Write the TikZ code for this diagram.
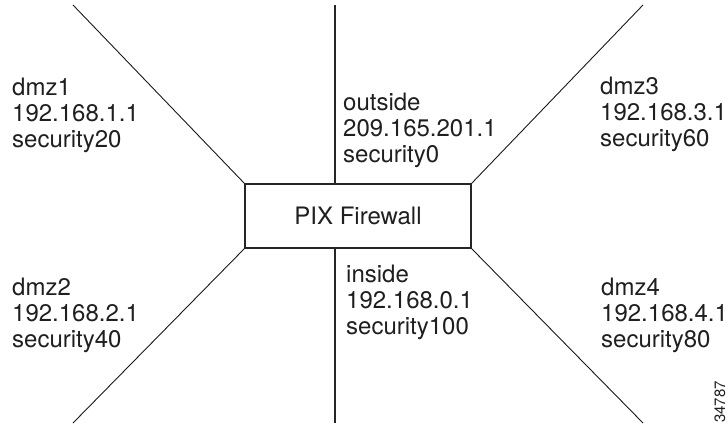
\documentclass[tikz,border=0pt]{standalone}
\usepackage{fontspec}
\setmainfont{TeX Gyre Heros}
\usetikzlibrary{positioning}

\begin{document}
\begin{tikzpicture}
    [
        x=1pt, y=-1pt,
        fw_box/.style={draw=black!85, line width=1.1pt, minimum width=226pt, minimum height=64pt, inner sep=0pt, text=black!88, font=\fontsize{24}{26}\selectfont},
        if_label/.style={anchor=north west, align=left, inner sep=0pt, text=black!88, font=\fontsize{24}{26.3}\selectfont},
        thin_link/.style={draw=black!90, line width=0.9pt},
        main_link/.style={draw=black!85, line width=1.4pt},
    ]
        \useasboundingbox (0,0) rectangle (728,425) ;
        \node[fw_box] (fw) at (358,216) {PIX Firewall} ;
        \coordinate (dmz1_end) at (73,5) ;
        \coordinate (dmz2_end) at (73,423) ;
        \coordinate (dmz3_end) at (643,5) ;
        \coordinate (dmz4_end) at (643,423) ;
        \coordinate (outside_end) at (335,5) ;
        \coordinate (inside_end) at (335,423) ;
        \node[if_label] (dmz1) at (12,77.5) {dmz1\\192.168.1.1\\security20} ;
        \node[if_label] (outside) at (343,92.5) {outside\\209.165.201.1\\security0} ;
        \node[if_label] (dmz3) at (600,76.5) {dmz3\\192.168.3.1\\security60} ;
        \node[if_label] (dmz2) at (12,277.5) {dmz2\\192.168.2.1\\security40} ;
        \node[if_label] (inside) at (346,264.5) {inside\\192.168.0.1\\security100} ;
        \node[if_label] (dmz4) at (601,277.5) {dmz4\\192.168.4.1\\security80} ;
        \node[rotate=90, anchor=base west, inner sep=0pt, text=black!88, font=\fontsize{15}{17}\selectfont] (fig_id) at (725,423) {34787} ;
        \draw[thin_link] (dmz1_end) -- (fw.north west) ;
        \draw[thin_link] (dmz2_end) -- (fw.south west) ;
        \draw[thin_link] (dmz3_end) -- (fw.north east) ;
        \draw[thin_link] (dmz4_end) -- (fw.south east) ;
        \draw[main_link] (outside_end) -- (outside_end |- fw.north) ;
        \draw[main_link] (inside_end) -- (inside_end |- fw.south) ;
\end{tikzpicture}
\end{document}
